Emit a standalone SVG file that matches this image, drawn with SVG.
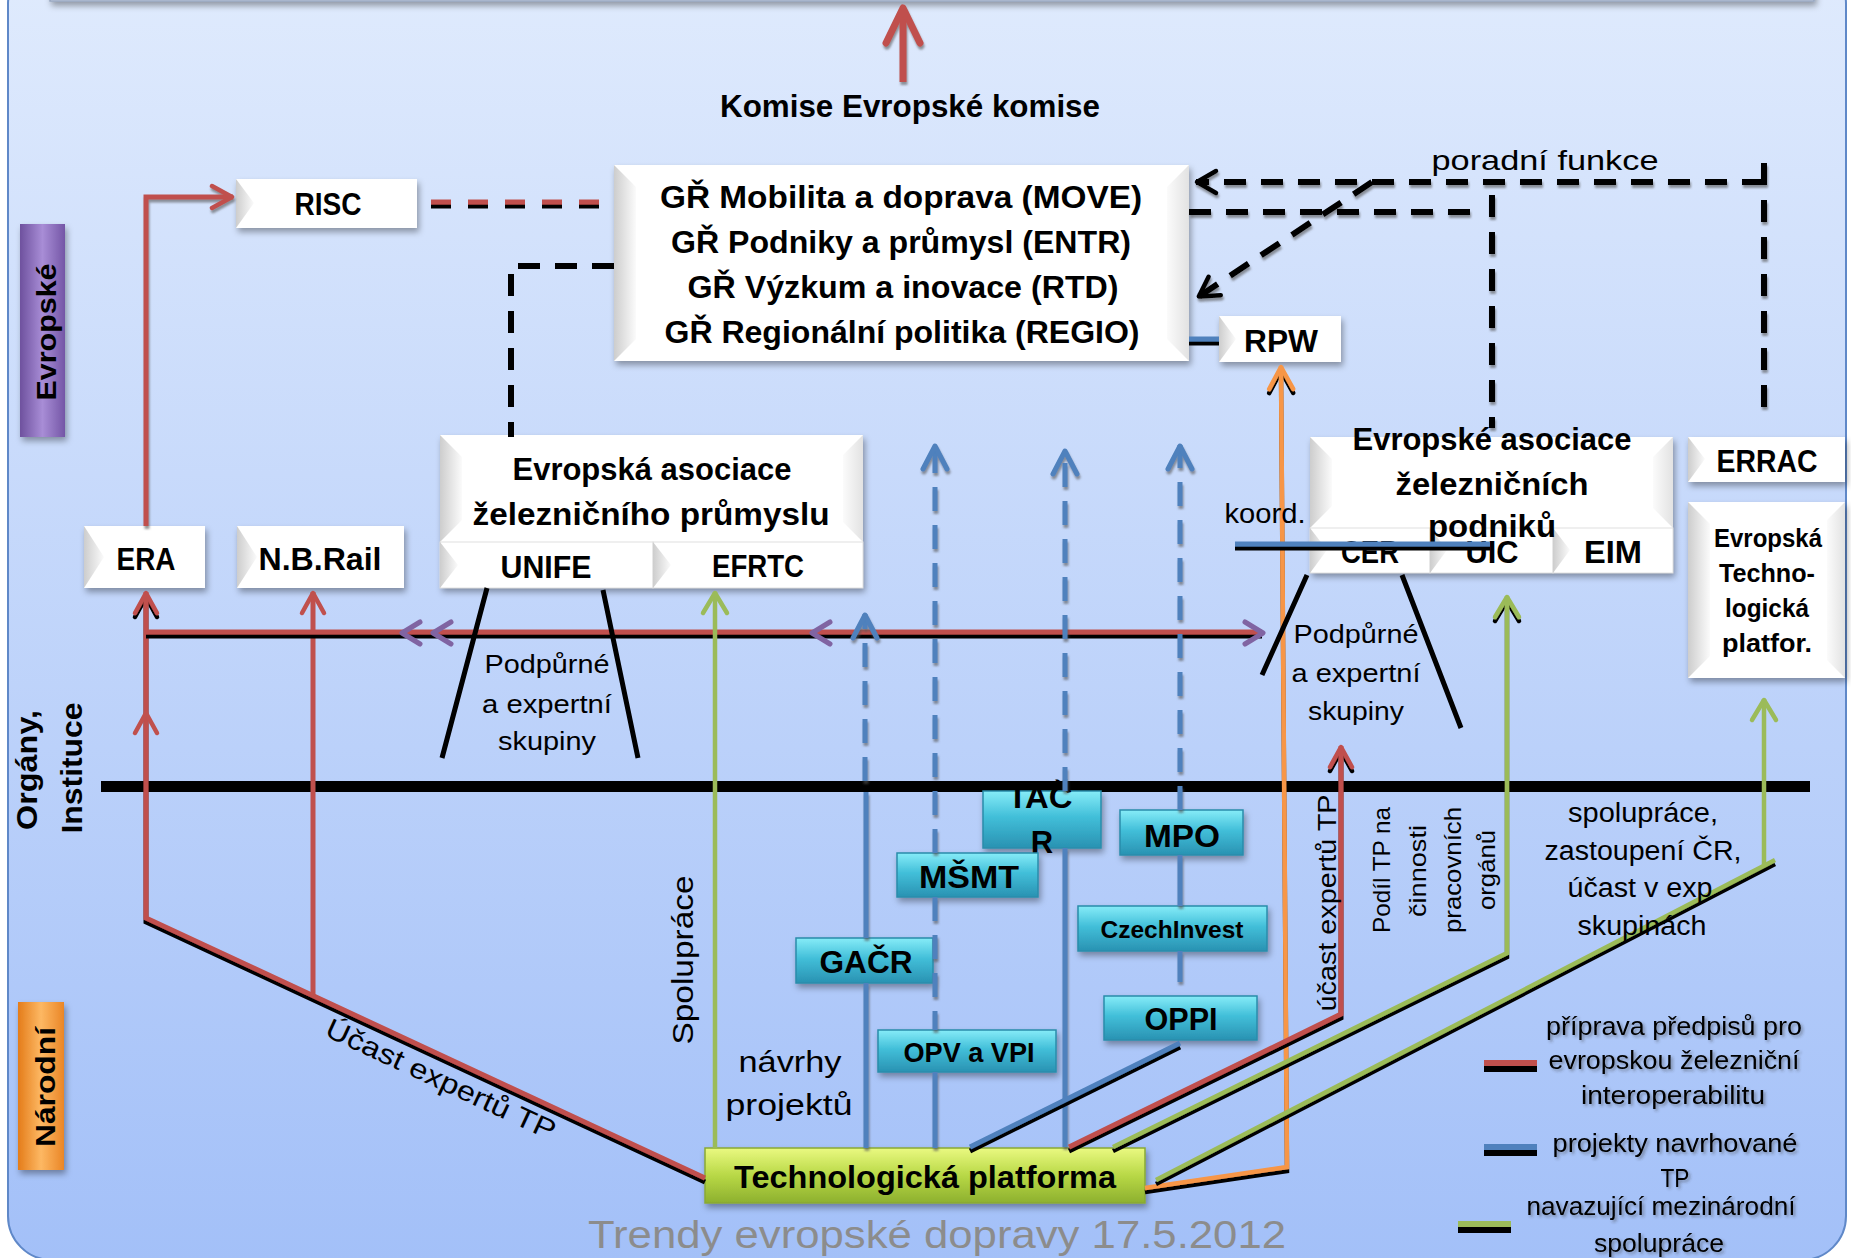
<svg xmlns="http://www.w3.org/2000/svg" width="1851" height="1258" viewBox="0 0 1851 1258">
<defs>
<linearGradient id="bg" x1="0" y1="0" x2="0" y2="1"><stop offset="0" stop-color="#e0ebfd"/><stop offset="1" stop-color="#a3c0f8"/></linearGradient>
<linearGradient id="bevL" x1="0" y1="0" x2="1" y2="0"><stop offset="0" stop-color="#cdcdcd"/><stop offset="1" stop-color="#fbfbfb"/></linearGradient>
<linearGradient id="bevR" x1="0" y1="0" x2="1" y2="0"><stop offset="0" stop-color="#fbfbfb"/><stop offset="1" stop-color="#e2e2e2"/></linearGradient>
<linearGradient id="teal" x1="0" y1="0" x2="0" y2="1"><stop offset="0" stop-color="#86ecf8"/><stop offset="0.45" stop-color="#42bfd9"/><stop offset="1" stop-color="#2992b2"/></linearGradient>
<linearGradient id="lime" x1="0" y1="0" x2="0" y2="1"><stop offset="0" stop-color="#eaf981"/><stop offset="0.5" stop-color="#b8d846"/><stop offset="1" stop-color="#8db02e"/></linearGradient>
<linearGradient id="purp" x1="0" y1="0" x2="1" y2="0"><stop offset="0" stop-color="#6e519e"/><stop offset="0.5" stop-color="#a88dd6"/><stop offset="1" stop-color="#7456a6"/></linearGradient>
<linearGradient id="orng" x1="0" y1="0" x2="1" y2="0"><stop offset="0" stop-color="#e47c1a"/><stop offset="0.5" stop-color="#fdb863"/><stop offset="1" stop-color="#ea8626"/></linearGradient>
<filter id="bs" filterUnits="userSpaceOnUse" x="0" y="-40" width="1851" height="1320"><feDropShadow dx="2" dy="4" stdDeviation="3" flood-color="#000" flood-opacity="0.35"/></filter>
<filter id="ls" filterUnits="userSpaceOnUse" x="0" y="0" width="1851" height="1258"><feDropShadow dx="0" dy="4" stdDeviation="0.4" flood-color="#000" flood-opacity="1"/></filter>
<filter id="gs" filterUnits="userSpaceOnUse" x="0" y="0" width="1851" height="1258"><feDropShadow dx="1" dy="3" stdDeviation="1" flood-color="#555" flood-opacity="0.6"/></filter>
<filter id="ts" filterUnits="userSpaceOnUse" x="0" y="0" width="1851" height="1258"><feDropShadow dx="2" dy="2" stdDeviation="1.5" flood-color="#333" flood-opacity="0.45"/></filter>
<marker id="mR" markerUnits="userSpaceOnUse" viewBox="0 0 26 26" markerWidth="26" markerHeight="26" refX="23" refY="13" orient="auto" overflow="visible"><path d="M2,2 L22,13 L2,24" fill="none" stroke="#c0504d" stroke-width="4.5" stroke-linejoin="round" stroke-linecap="round"/></marker>
<marker id="mG" markerUnits="userSpaceOnUse" viewBox="0 0 26 26" markerWidth="26" markerHeight="26" refX="23" refY="13" orient="auto" overflow="visible"><path d="M2,1 L22,13 L2,25" fill="none" stroke="#9bbb59" stroke-width="4.5" stroke-linejoin="round" stroke-linecap="round"/></marker>
<marker id="mO" markerUnits="userSpaceOnUse" viewBox="0 0 26 26" markerWidth="26" markerHeight="26" refX="23" refY="13" orient="auto" overflow="visible"><path d="M0,1 L22,13 L0,25" fill="none" stroke="#f79646" stroke-width="4.5" stroke-linejoin="round" stroke-linecap="round"/></marker>
<marker id="mB" markerUnits="userSpaceOnUse" viewBox="0 0 28 28" markerWidth="28" markerHeight="28" refX="25" refY="14" orient="auto" overflow="visible"><path d="M1,2 L24,14 L1,26" fill="none" stroke="#4f81bd" stroke-width="5" stroke-linejoin="round" stroke-linecap="round"/></marker>
<marker id="mK" markerUnits="userSpaceOnUse" viewBox="0 0 26 26" markerWidth="26" markerHeight="26" refX="22" refY="13" orient="auto" overflow="visible"><path d="M2,2 L21,13 L2,24" fill="none" stroke="#000" stroke-width="4.5" stroke-linejoin="round" stroke-linecap="round"/></marker>
</defs>
<style>
.b{font-family:"Liberation Sans",Arial,sans-serif;font-weight:700;text-anchor:middle;fill:#000}
.r{font-family:"Liberation Sans",Arial,sans-serif;font-weight:400;text-anchor:middle;fill:#000}
.wb{fill:#fff}
.bl{fill:url(#bevL)}
.br{fill:url(#bevR)}
.tb{fill:url(#teal);stroke:#2a8cab;stroke-width:1.5}
.red{fill:none;stroke:#c0504d;stroke-width:5}
.grn{fill:none;stroke:#9bbb59;stroke-width:4.5}
.blu{fill:none;stroke:#4f81bd;stroke-width:5}
.bd{fill:none;stroke:#4f81bd;stroke-width:5;stroke-dasharray:24 14}
.ora{fill:none;stroke:#f79646;stroke-width:4.5}
.kd{fill:none;stroke:#000;stroke-width:6;stroke-dasharray:22 15}
.k{fill:none;stroke:#000;stroke-width:5}
.pu{fill:none;stroke:#8064a2;stroke-width:5;stroke-linejoin:round;stroke-linecap:round}
</style>

<rect x="8" y="-40" width="1838" height="1300" rx="44" fill="url(#bg)" stroke="#5f88c8" stroke-width="2"/>
<rect x="50" y="-30" width="1764" height="31" fill="#dfe7f6" stroke="#97a6bf" stroke-width="1.5" filter="url(#bs)"/>

<g id="side-labels">
<g id="lbl-evropske">
<rect x="20" y="224" width="45" height="213" fill="url(#purp)" filter="url(#bs)"/>
<text class="b" font-size="28" transform="translate(56,332) rotate(-90)" textLength="137" lengthAdjust="spacingAndGlyphs">Evropské</text>
</g>
<g id="lbl-organy">
<text class="b" font-size="29" transform="translate(37,770) rotate(-90)" textLength="120" lengthAdjust="spacingAndGlyphs">Orgány,</text>
<text class="b" font-size="29" transform="translate(82,768) rotate(-90)" textLength="131" lengthAdjust="spacingAndGlyphs">Instituce</text>
</g>
<g id="lbl-narodni">
<rect x="18" y="1002" width="46" height="168" fill="url(#orng)" filter="url(#bs)"/>
<text class="b" font-size="28" transform="translate(55,1087) rotate(-90)" textLength="120" lengthAdjust="spacingAndGlyphs">Národní</text>
</g>
</g>

<rect x="101" y="781" width="1709" height="11" fill="#000"/>

<g id="n-gr">
<rect class="wb" x="614" y="165" width="575" height="196" filter="url(#bs)"/>
<polygon class="bl" points="614,165 636,187 636,339 614,361"/>
<polygon class="br" points="1189,165 1189,361 1167,339 1167,187"/>
<text class="b" x="901" y="208" font-size="32" textLength="482" lengthAdjust="spacingAndGlyphs">GŘ Mobilita a doprava (MOVE)</text>
<text class="b" x="901" y="253" font-size="32" textLength="460" lengthAdjust="spacingAndGlyphs">GŘ Podniky a průmysl (ENTR)</text>
<text class="b" x="903" y="298" font-size="32" textLength="431" lengthAdjust="spacingAndGlyphs">GŘ Výzkum a inovace (RTD)</text>
<text class="b" x="902" y="343" font-size="32" textLength="475" lengthAdjust="spacingAndGlyphs">GŘ Regionální politika (REGIO)</text>
</g>
<g id="n-risc">
<rect class="wb" x="236" y="179" width="181" height="49" filter="url(#bs)"/>
<polygon class="bl" points="236,179 254,203 236,228"/>
<text class="b" x="328" y="215" font-size="31" textLength="67" lengthAdjust="spacingAndGlyphs">RISC</text>
</g>
<g id="n-rpw">
<rect class="wb" x="1219" y="316" width="122" height="46" filter="url(#bs)"/>
<polygon class="bl" points="1219,316 1236,339 1219,362"/>
<text class="b" x="1281" y="352" font-size="31" textLength="74" lengthAdjust="spacingAndGlyphs">RPW</text>
</g>
<g id="n-era">
<rect class="wb" x="84" y="526" width="121" height="62" filter="url(#bs)"/>
<polygon class="bl" points="84,526 104,557 84,588"/>
<text class="b" x="146" y="570" font-size="31" textLength="59" lengthAdjust="spacingAndGlyphs">ERA</text>
</g>
<g id="n-nbrail">
<rect class="wb" x="237" y="526" width="167" height="62" filter="url(#bs)"/>
<polygon class="bl" points="237,526 257,557 237,588"/>
<text class="b" x="320" y="570" font-size="31" textLength="123" lengthAdjust="spacingAndGlyphs">N.B.Rail</text>
</g>
<g id="n-unife-assoc">
<rect class="wb" x="440" y="435" width="423" height="153" filter="url(#bs)"/>
<polygon class="bl" points="440,435 462,457 462,520 440,542"/>
<polygon class="br" points="863,435 863,542 843,522 843,455"/>
<rect class="wb" x="440" y="542" width="213" height="46" stroke="#e0e0e0" stroke-width="1"/>
<polygon class="bl" points="440,542 458,565 440,588"/>
<rect class="wb" x="653" y="542" width="210" height="46" stroke="#e0e0e0" stroke-width="1"/>
<polygon class="bl" points="653,542 671,565 653,588"/>
<text class="b" x="652" y="480" font-size="31" textLength="279" lengthAdjust="spacingAndGlyphs">Evropská asociace</text>
<text class="b" x="651" y="525" font-size="31" textLength="357" lengthAdjust="spacingAndGlyphs">železničního průmyslu</text>
<text class="b" x="546" y="578" font-size="31" textLength="91" lengthAdjust="spacingAndGlyphs">UNIFE</text>
<text class="b" x="758" y="577" font-size="31" textLength="92" lengthAdjust="spacingAndGlyphs">EFRTC</text>
</g>
<g id="n-cer-assoc">
<rect class="wb" x="1310" y="437" width="363" height="136" filter="url(#bs)"/>
<polygon class="bl" points="1310,437 1332,459 1332,506 1310,528"/>
<polygon class="br" points="1673,437 1673,528 1653,508 1653,457"/>
<rect class="wb" x="1310" y="528" width="120" height="45" stroke="#e0e0e0" stroke-width="1"/>
<polygon class="bl" points="1310,528 1327,550 1310,573"/>
<rect class="wb" x="1430" y="528" width="123" height="45" stroke="#e0e0e0" stroke-width="1"/>
<polygon class="bl" points="1430,528 1447,550 1430,573"/>
<rect class="wb" x="1553" y="528" width="120" height="45" stroke="#e0e0e0" stroke-width="1"/>
<polygon class="bl" points="1553,528 1570,550 1553,573"/>
<text class="b" x="1370" y="563" font-size="31" textLength="58" lengthAdjust="spacingAndGlyphs">CER</text>
<text class="b" x="1492" y="563" font-size="31" textLength="53" lengthAdjust="spacingAndGlyphs">UIC</text>
<text class="b" x="1613" y="563" font-size="31" textLength="58" lengthAdjust="spacingAndGlyphs">EIM</text>
<text class="b" x="1492" y="450" font-size="31" textLength="279" lengthAdjust="spacingAndGlyphs">Evropské asociace</text>
<text class="b" x="1492" y="495" font-size="31" textLength="193" lengthAdjust="spacingAndGlyphs">železničních</text>
<text class="b" x="1492" y="537" font-size="31" textLength="128" lengthAdjust="spacingAndGlyphs">podniků</text>
</g>
<g id="n-errac">
<rect class="wb" x="1688" y="437" width="157" height="45" filter="url(#bs)"/>
<polygon class="bl" points="1688,437 1705,459 1688,482"/>
<text class="b" x="1767" y="472" font-size="31" textLength="101" lengthAdjust="spacingAndGlyphs">ERRAC</text>
</g>
<g id="n-etp">
<rect class="wb" x="1688" y="502" width="157" height="176" filter="url(#bs)"/>
<polygon class="bl" points="1688,502 1710,524 1710,656 1688,678"/>
<polygon class="br" points="1845,502 1845,678 1827,660 1827,520"/>
<text class="b" x="1768" y="547" font-size="25" textLength="108" lengthAdjust="spacingAndGlyphs">Evropská</text>
<text class="b" x="1767" y="582" font-size="25" textLength="96" lengthAdjust="spacingAndGlyphs">Techno-</text>
<text class="b" x="1767" y="617" font-size="25" textLength="84" lengthAdjust="spacingAndGlyphs">logická</text>
<text class="b" x="1767" y="652" font-size="25" textLength="90" lengthAdjust="spacingAndGlyphs">platfor.</text>
</g>

<g id="n-tacr">
<rect class="tb" x="983" y="791" width="118" height="57" filter="url(#bs)"/>
<text class="b" x="1040" y="808" font-size="31" textLength="65" lengthAdjust="spacingAndGlyphs">TAČ</text>
<text class="b" x="1042" y="853" font-size="31">R</text>
</g>
<g id="n-mpo">
<rect class="tb" x="1120" y="810" width="123" height="45" filter="url(#bs)"/>
<text class="b" x="1182" y="847" font-size="31" textLength="76" lengthAdjust="spacingAndGlyphs">MPO</text>
</g>
<g id="n-msmt">
<rect class="tb" x="897" y="853" width="141" height="44" filter="url(#bs)"/>
<text class="b" x="969" y="888" font-size="31" textLength="100" lengthAdjust="spacingAndGlyphs">MŠMT</text>
</g>
<g id="n-czechinvest">
<rect class="tb" x="1078" y="906" width="189" height="45" filter="url(#bs)"/>
<text class="b" x="1172" y="938" font-size="24" textLength="143" lengthAdjust="spacingAndGlyphs">CzechInvest</text>
</g>
<g id="n-gacr">
<rect class="tb" x="796" y="938" width="137" height="45" filter="url(#bs)"/>
<text class="b" x="866" y="973" font-size="31" textLength="93" lengthAdjust="spacingAndGlyphs">GAČR</text>
</g>
<g id="n-oppi">
<rect class="tb" x="1104" y="996" width="153" height="44" filter="url(#bs)"/>
<text class="b" x="1181" y="1030" font-size="31" textLength="73" lengthAdjust="spacingAndGlyphs">OPPI</text>
</g>
<g id="n-opv">
<rect class="tb" x="878" y="1030" width="178" height="42" filter="url(#bs)"/>
<text class="b" x="969" y="1062" font-size="28" textLength="131" lengthAdjust="spacingAndGlyphs">OPV a VPI</text>
</g>
<g id="n-tp">
<rect x="705" y="1148" width="440" height="55" fill="url(#lime)" stroke="#89a935" stroke-width="1.5" filter="url(#bs)"/>
<text class="b" x="925" y="1188" font-size="31" textLength="382" lengthAdjust="spacingAndGlyphs">Technologická platforma</text>
</g>

<g id="connectors">
<g filter="url(#gs)">
<path d="M903,82 V10" stroke="#c0504d" stroke-width="7" fill="none"/>
<polyline points="886,43 903,8 920,43" fill="none" stroke="#c0504d" stroke-width="7" stroke-linejoin="round" stroke-linecap="round"/>
</g>
<path class="red" d="M146,526 V197 H233" stroke-width="4" marker-end="url(#mR)" filter="url(#gs)"/>
<path class="red" d="M431,202 H614" stroke-dasharray="20 17" filter="url(#ls)"/>
<path class="kd" d="M614,266 H511 V437" stroke-width="7"/>
<path class="blu" d="M1189,339 H1219" filter="url(#ls)"/>
<g filter="url(#gs)">
<path class="kd" d="M1764,182 H1196" stroke-dasharray="20 16" marker-end="url(#mK)"/>
<path class="kd" d="M1764,163 V412" stroke-dasharray="24 14"/>
<path class="kd" d="M1372,182 L1198,297" stroke-dasharray="20 14" marker-end="url(#mK)"/>
<path class="kd" d="M1189,212 H1476" stroke-width="10" stroke-dasharray="24 14"/>
<path class="kd" d="M1492,195 V428" stroke-dasharray="24 14"/>
</g>
<path class="ora" d="M1145,1188 L1287,1167 L1281,366" marker-end="url(#mO)" filter="url(#ls)"/>
<path class="red" d="M705,1178 L146,918 V592" marker-end="url(#mR)" filter="url(#ls)"/>
<polyline points="135,733 146,713 157,733" fill="none" stroke="#c0504d" stroke-width="4.5" stroke-linejoin="round" stroke-linecap="round"/>
<path class="red" d="M313,996 V592" marker-end="url(#mR)"/>
<path class="red" d="M146,632 H1262" filter="url(#ls)"/>
<polyline class="pu" points="420,622 402,633 420,644"/>
<polyline class="pu" points="451,622 433,633 451,644"/>
<polyline class="pu" points="830,622 812,633 830,644"/>
<polyline class="pu" points="1245,622 1263,633 1245,644"/>
<path class="grn" d="M715,1148 V592" marker-end="url(#mG)"/>
<g filter="url(#gs)">
<path class="bd" d="M865,781 V614" marker-end="url(#mB)"/>
<path class="blu" d="M866,792 V938 M866,983 V1148"/>
<path class="bd" d="M935,853 V445" marker-end="url(#mB)"/>
<path class="bd" d="M935,897 V1030"/>
<path class="blu" d="M935,1072 V1148"/>
<path class="bd" d="M1065,791 V450" marker-end="url(#mB)"/>
<path class="blu" d="M1065,848 V1147"/>
<path class="bd" d="M1180,810 V445" marker-end="url(#mB)"/>
<path class="blu" d="M1180,855 V906 M1180,951 V982"/>
</g>
<path class="blu" d="M1180,1043 L970,1147" filter="url(#ls)"/>
<path class="red" d="M1069,1147 L1341,1014 V746" marker-end="url(#mR)" filter="url(#ls)"/>
<path class="grn" d="M1113,1147 L1507,953 V596" marker-end="url(#mG)" filter="url(#ls)"/>
<path class="grn" d="M1156,1180 L1775,860" filter="url(#ls)"/>
<path class="grn" d="M1764,866 V699" marker-end="url(#mG)"/>
<path class="k" d="M487,588 L442,758 M603,590 L638,758"/>
<path class="k" d="M1307,575 L1262,675 M1402,575 L1461,728"/>
<path class="blu" d="M1235,544 H1490" filter="url(#ls)"/>
</g>

<g id="labels">
<text class="b" x="910" y="117" font-size="31" textLength="380" lengthAdjust="spacingAndGlyphs">Komise Evropské komise</text>
<text class="r" x="1545" y="170" font-size="28" textLength="227" lengthAdjust="spacingAndGlyphs">poradní funkce</text>
<text class="r" x="1265" y="523" font-size="27" textLength="81" lengthAdjust="spacingAndGlyphs">koord.</text>
<text class="r" x="547" y="673" font-size="26" textLength="125" lengthAdjust="spacingAndGlyphs">Podpůrné</text>
<text class="r" x="547" y="713" font-size="26" textLength="130" lengthAdjust="spacingAndGlyphs">a expertní</text>
<text class="r" x="547" y="750" font-size="26" textLength="98" lengthAdjust="spacingAndGlyphs">skupiny</text>
<text class="r" x="1356" y="643" font-size="26" textLength="125" lengthAdjust="spacingAndGlyphs">Podpůrné</text>
<text class="r" x="1356" y="682" font-size="26" textLength="129" lengthAdjust="spacingAndGlyphs">a expertní</text>
<text class="r" x="1356" y="720" font-size="26" textLength="96" lengthAdjust="spacingAndGlyphs">skupiny</text>
<text class="r" font-size="30" transform="translate(693,960) rotate(-90)" textLength="169" lengthAdjust="spacingAndGlyphs">Spolupráce</text>
<text class="r" x="790" y="1072" font-size="29" textLength="103" lengthAdjust="spacingAndGlyphs">návrhy</text>
<text class="r" x="789" y="1115" font-size="29" textLength="127" lengthAdjust="spacingAndGlyphs">projektů</text>
<text class="r" font-size="28" transform="translate(437,1088) rotate(24.9)" textLength="250" lengthAdjust="spacingAndGlyphs">Účast expertů TP</text>
<text class="r" font-size="26" transform="translate(1336,903) rotate(-90)" textLength="217" lengthAdjust="spacingAndGlyphs">účast expertů TP</text>
<text class="r" font-size="24" transform="translate(1390,870) rotate(-90)" textLength="126" lengthAdjust="spacingAndGlyphs">Podíl TP na</text>
<text class="r" font-size="24" transform="translate(1426,871) rotate(-90)" textLength="92" lengthAdjust="spacingAndGlyphs">činnosti</text>
<text class="r" font-size="24" transform="translate(1461,870) rotate(-90)" textLength="126" lengthAdjust="spacingAndGlyphs">pracovních</text>
<text class="r" font-size="24" transform="translate(1495,870) rotate(-90)" textLength="80" lengthAdjust="spacingAndGlyphs">orgánů</text>
<text class="r" x="1643" y="822" font-size="27" textLength="150" lengthAdjust="spacingAndGlyphs">spolupráce,</text>
<text class="r" x="1643" y="860" font-size="27" textLength="197" lengthAdjust="spacingAndGlyphs">zastoupení ČR,</text>
<text class="r" x="1640" y="897" font-size="27" textLength="145" lengthAdjust="spacingAndGlyphs">účast v exp</text>
<text class="r" x="1642" y="935" font-size="27" textLength="129" lengthAdjust="spacingAndGlyphs">skupinách</text>
<text class="r" x="937" y="1248" font-size="39" fill="#8c8c8c" style="fill:#8c8c8c" textLength="698" lengthAdjust="spacingAndGlyphs">Trendy evropské dopravy 17.5.2012</text>
</g>

<g id="legend">
<rect x="1484" y="1060" width="53" height="6" fill="#c0504d"/>
<rect x="1484" y="1066" width="53" height="6" fill="#000"/>
<rect x="1484" y="1144" width="53" height="6" fill="#4f81bd"/>
<rect x="1484" y="1150" width="53" height="6" fill="#000"/>
<rect x="1458" y="1221" width="53" height="6" fill="#9bbb59"/>
<rect x="1458" y="1227" width="53" height="6" fill="#000"/>
<g filter="url(#ts)">
<text class="r" x="1674" y="1035" font-size="26" textLength="256" lengthAdjust="spacingAndGlyphs">příprava předpisů pro</text>
<text class="r" x="1674" y="1069" font-size="26" textLength="251" lengthAdjust="spacingAndGlyphs">evropskou železniční</text>
<text class="r" x="1673" y="1104" font-size="26" textLength="184" lengthAdjust="spacingAndGlyphs">interoperabilitu</text>
<text class="r" x="1675" y="1152" font-size="26" textLength="245" lengthAdjust="spacingAndGlyphs">projekty navrhované</text>
<text class="r" x="1675" y="1187" font-size="26" textLength="29" lengthAdjust="spacingAndGlyphs">TP</text>
<text class="r" x="1661" y="1215" font-size="26" textLength="269" lengthAdjust="spacingAndGlyphs">navazující mezinárodní</text>
<text class="r" x="1659" y="1252" font-size="26" textLength="130" lengthAdjust="spacingAndGlyphs">spolupráce</text>
</g>
</g>
</svg>
